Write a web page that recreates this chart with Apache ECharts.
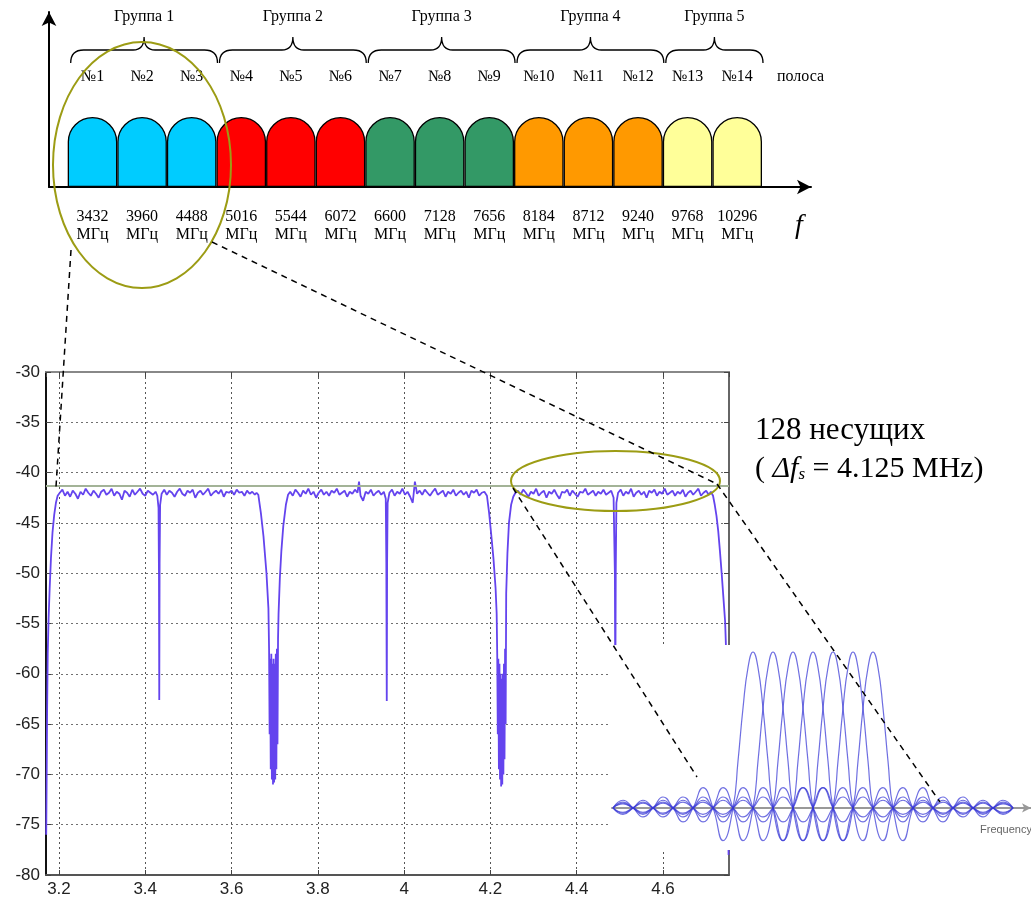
<!DOCTYPE html>
<html><head><meta charset="utf-8">
<script src="https://cdn.jsdelivr.net/npm/echarts@6/dist/echarts.min.js"></script>
<style>html,body{margin:0;padding:0;background:#fff}#c{width:1031px;height:898px}</style>
</head><body><div id="c"></div>
<script>
// ---------- top band plan ----------
const bandNumbers = ['№1','№2','№3','№4','№5','№6','№7','№8','№9','№10','№11','№12','№13','№14'];
const bandFreqs = [3432,3960,4488,5016,5544,6072,6600,7128,7656,8184,8712,9240,9768,10296];
const bandGroup = [1,1,1,2,2,2,3,3,3,4,4,4,5,5];
const bandLevel = [1,1,1,1,1,1,1,1,1,1,1,1,1,1];
const groupNames = ['Группа 1','Группа 2','Группа 3','Группа 4','Группа 5'];
const groupStart = [0,3,6,9,12];
const groupEnd = [2,5,8,11,13];

// ---------- spectrum (GHz, dB) ----------
const specLeftEdge = [[3.1705,-76.0],[3.1715,-70.5],[3.1725,-64.0],[3.1740,-58.0],[3.1760,-54.5],[3.1785,-51.5],[3.1815,-48.5],[3.1850,-46.0],[3.1890,-44.2],[3.1930,-43.0],[3.1970,-42.3]];
const specBand1 = [[3.202,-42.0],[3.208,-41.7],[3.214,-42.3],[3.220,-41.9],[3.226,-42.4],[3.232,-41.8],[3.238,-42.1],[3.244,-42.6],[3.250,-41.9],[3.256,-42.2],[3.262,-41.6],[3.268,-42.0],[3.274,-42.3],[3.280,-41.8],[3.286,-42.1],[3.292,-42.5],[3.298,-41.9],[3.304,-41.7],[3.310,-42.2],[3.316,-42.0],[3.322,-41.6],[3.328,-42.3],[3.334,-41.9],[3.340,-42.1],[3.346,-42.7],[3.352,-41.8],[3.358,-42.0],[3.364,-42.4],[3.370,-41.7],[3.376,-42.2],[3.382,-41.9],[3.388,-41.6],[3.394,-42.1],[3.400,-42.3],[3.406,-41.8],[3.412,-42.0],[3.418,-42.2],[3.424,-41.9],[3.428,-42.3],
  [3.4308,-43.5],[3.4318,-50.0],[3.4325,-62.6],[3.4333,-49.0],[3.4345,-43.2],
  [3.438,-42.1],[3.444,-41.7],[3.450,-42.2],[3.456,-41.8],[3.462,-42.0],[3.468,-42.4],[3.474,-41.9],[3.480,-41.6],[3.486,-42.1],[3.492,-42.3],[3.498,-41.8],[3.504,-42.0],[3.510,-41.7],[3.516,-42.5],[3.522,-42.0],[3.528,-41.8],[3.534,-42.2],[3.540,-41.9],[3.546,-41.6],[3.552,-42.3],[3.558,-42.0],[3.564,-41.8],[3.570,-42.1],[3.576,-41.7],[3.582,-42.4],[3.588,-41.9],[3.594,-42.0],[3.600,-41.8],[3.606,-42.2],[3.612,-41.7],[3.618,-42.0],[3.624,-41.9],[3.630,-42.3],[3.636,-41.8],[3.642,-42.1],[3.648,-41.9],[3.654,-42.2],[3.658,-42.0]];
const specGap1 = [[3.662,-42.2],[3.668,-44.0],[3.674,-46.3],[3.681,-50.0],[3.6855,-53.5],[3.6870,-57.5],[3.6883,-66.0],[3.6896,-58.5],[3.6909,-69.5],[3.6922,-58.0],[3.6935,-70.5],[3.6948,-59.0],[3.6961,-71.0],[3.6974,-58.5],[3.6987,-70.8],[3.7000,-59.0],[3.7013,-70.5],[3.7026,-58.0],[3.7039,-69.5],[3.7052,-57.5],[3.7065,-67.0],[3.7078,-56.5],[3.7090,-54.0],[3.7120,-50.5],[3.7155,-47.8],[3.7200,-45.3],[3.7260,-43.2],[3.7310,-42.2]];
const specBand2 = [[3.736,-41.9],[3.742,-42.3],[3.748,-41.7],[3.754,-42.0],[3.760,-42.4],[3.766,-41.8],[3.772,-42.1],[3.778,-41.6],[3.784,-42.2],[3.790,-41.9],[3.796,-42.5],[3.802,-42.0],[3.808,-41.7],[3.814,-42.2],[3.820,-41.9],[3.826,-42.3],[3.832,-41.8],[3.838,-42.0],[3.844,-41.6],[3.850,-42.2],[3.856,-42.0],[3.862,-41.8],[3.868,-42.4],[3.874,-41.9],[3.880,-42.1],[3.886,-41.7],[3.892,-42.0],[3.8955,-40.9],[3.899,-42.3],[3.905,-42.8],[3.911,-41.9],[3.917,-42.1],[3.923,-41.7],[3.929,-42.3],[3.935,-42.0],[3.941,-41.8],[3.947,-42.2],[3.953,-41.9],[3.9575,-42.6],
  [3.9588,-49.0],[3.9598,-62.7],[3.9606,-49.0],[3.9618,-43.0],
  [3.966,-42.0],[3.972,-41.7],[3.978,-42.3],[3.984,-41.9],[3.990,-42.1],[3.996,-41.6],[4.002,-42.2],[4.008,-41.9],[4.014,-42.4],[4.020,-43.0],[4.025,-40.9],[4.030,-42.1],[4.036,-41.8],[4.042,-42.2],[4.048,-41.7],[4.054,-42.0],[4.060,-42.3],[4.066,-41.9],[4.072,-41.6],[4.078,-42.2],[4.084,-42.0],[4.090,-41.8],[4.096,-42.4],[4.102,-41.9],[4.108,-42.1],[4.114,-41.7],[4.120,-42.3],[4.126,-42.0],[4.132,-41.8],[4.138,-42.2],[4.144,-41.9],[4.150,-42.5],[4.156,-41.8],[4.162,-42.0],[4.168,-41.7],[4.174,-42.3],[4.180,-42.0],[4.186,-41.9]];
const specGap2 = [[4.192,-42.3],[4.197,-44.0],[4.202,-46.2],[4.207,-48.5],[4.212,-51.5],[4.2145,-54.0],[4.2158,-58.0],[4.2171,-66.0],[4.2184,-58.5],[4.2197,-69.5],[4.2210,-59.0],[4.2223,-70.5],[4.2236,-60.0],[4.2249,-71.2],[4.2262,-60.5],[4.2275,-71.0],[4.2288,-60.0],[4.2301,-70.0],[4.2314,-59.0],[4.2327,-68.5],[4.2340,-57.5],[4.2353,-65.0],[4.2366,-52.0],[4.2395,-48.0],[4.2430,-45.0],[4.2480,-43.2],[4.2530,-42.4],[4.2580,-42.0]];
const specBand3 = [[4.264,-41.8],[4.270,-42.2],[4.276,-41.7],[4.282,-42.0],[4.288,-42.4],[4.294,-41.9],[4.300,-42.1],[4.306,-41.6],[4.312,-42.3],[4.318,-42.0],[4.324,-41.8],[4.330,-42.5],[4.336,-41.9],[4.342,-42.1],[4.348,-41.7],[4.354,-42.2],[4.360,-42.6],[4.366,-41.9],[4.372,-42.0],[4.378,-41.7],[4.384,-42.3],[4.390,-41.8],[4.396,-42.1],[4.402,-42.4],[4.408,-41.9],[4.414,-42.0],[4.420,-41.6],[4.426,-42.2],[4.432,-42.0],[4.438,-41.8],[4.444,-42.3],[4.450,-41.9],[4.456,-42.1],[4.462,-41.7],[4.468,-42.2],[4.474,-42.0],[4.480,-41.8],[4.4855,-42.5],
  [4.4885,-50.0],[4.4895,-62.5],[4.4905,-50.0],[4.4920,-43.0],
  [4.496,-42.0],[4.502,-41.7],[4.508,-42.3],[4.514,-41.9],[4.520,-42.1],[4.526,-41.6],[4.532,-42.4],[4.538,-42.0],[4.544,-41.8],[4.550,-42.2],[4.556,-41.9],[4.562,-42.5],[4.568,-41.8],[4.574,-42.0],[4.580,-41.7],[4.586,-42.3],[4.592,-41.9],[4.598,-42.1],[4.604,-41.6],[4.610,-42.2],[4.616,-42.0],[4.622,-41.8],[4.628,-42.3],[4.634,-41.9],[4.640,-42.1],[4.646,-41.7],[4.652,-42.4],[4.658,-42.0],[4.664,-41.8],[4.670,-42.2],[4.676,-41.9],[4.682,-41.6],[4.688,-42.3],[4.694,-42.0],[4.700,-41.8],[4.706,-42.2],[4.711,-41.9]];
const specRightEdge = [[4.716,-42.3],[4.720,-43.2],[4.724,-44.3],[4.728,-45.8],[4.732,-47.8],[4.736,-50.0],[4.740,-52.4],[4.744,-54.8],[4.7465,-58.0],[4.7485,-64.0],[4.7505,-72.0],[4.7520,-78.0]];
const specReference = -41.3;

// ---------- inset: subcarrier spectra (offset in carrier spacings, relative level) ----------
const carrierCenters = [0,1,2,3,4,5,6];
const sincHalf = [[0,1],[0.25,0.9],[0.5,0.64],[0.75,0.3],[1,0],[1.5,-0.21],[2,0],[2.5,0.13],[3,0],[3.5,-0.09],[4,0],[4.5,0.07],[5,0],[5.5,-0.058],[6,0],[6.5,0.049],[7,0],[7.5,-0.042],[8,0],[8.5,0.037],[9,0],[9.5,-0.034],[10,0],[10.5,0.03],[11,0],[11.5,-0.028],[12,0],[12.5,0.025],[13,0],[13.5,-0.024],[14,0]];
const insetRange = [-7, 13];

const groupColors = ['#00ccff','#ff0000','#339966','#ff9900','#ffff99'];
const serif = '"Liberation Serif", "Times New Roman", serif';
const sans = '"Liberation Sans", Arial, sans-serif';

const spectrum = [].concat(specLeftEdge, specBand1, specGap1, specBand2, specGap2, specBand3, specRightEdge);
const sincFull = sincHalf.slice(1).map(p => [-p[0], p[1]]).reverse().concat(sincHalf);

const insetSeries = carrierCenters.map(c => ({
  type: 'line', xAxisIndex: 5, yAxisIndex: 4, z: 20, smooth: 0.5, showSymbol: false, silent: true,
  lineStyle: { color: '#3838d6', width: 1.2, opacity: 0.72 },
  data: sincFull.map(p => [c + p[0], p[1]]).filter(p => p[0] >= insetRange[0] && p[0] <= insetRange[1])
}));

const chart = echarts.init(document.getElementById('c'), null, { renderer: 'canvas' });
const option = {
  animation: false,
  backgroundColor: '#fff',
  grid: [
    { left: 67.7, top: 117, width: 694.3, height: 70 },          // bands
    { left: 49, top: 12, width: 762, height: 175 },              // arrows
    { left: 46, top: 372, width: 683, height: 505 },             // spectrum
    { left: 612, top: 645, width: 419, height: 205 }             // inset
  ],
  xAxis: [
    { gridIndex: 0, type: 'category', data: bandFreqs, position: 'bottom',
      axisLine: { show: false }, axisTick: { show: false },
      axisLabel: { interval: 0, margin: 21, formatter: v => v + '\nМГц', fontFamily: serif, fontSize: 16, lineHeight: 18, color: '#000' } },
    { gridIndex: 0, type: 'category', data: bandNumbers, position: 'top',
      axisLine: { show: false }, axisTick: { show: false },
      axisLabel: { interval: 0, margin: 32, fontFamily: serif, fontSize: 16, color: '#000' } },
    { gridIndex: 1, type: 'value', min: 0, max: 1,
      axisLine: { show: true, onZero: false, symbol: ['none', 'arrow'], symbolSize: [11, 14], lineStyle: { color: '#000', width: 2 } },
      axisTick: { show: false }, axisLabel: { show: false }, splitLine: { show: false } },
    { gridIndex: 2, type: 'value', min: 3.17, max: 4.753, splitNumber: 8, position: 'bottom',
      axisLine: { show: true, onZero: false, lineStyle: { color: '#555', width: 2 } },
      axisTick: { show: true, inside: true, length: 5, lineStyle: { color: '#444' } },
      axisLabel: { showMinLabel: false, showMaxLabel: false, margin: 6, fontFamily: sans, fontSize: 17, color: '#222' },
      splitLine: { show: true, lineStyle: { color: '#555', type: [2, 3], width: 1 } } },
    { gridIndex: 2, type: 'value', min: 3.17, max: 4.753, splitNumber: 8, position: 'top',
      axisLine: { show: true, onZero: false, lineStyle: { color: '#888', width: 2 } },
      axisTick: { show: true, inside: true, length: 5, lineStyle: { color: '#444' } },
      axisLabel: { show: false }, splitLine: { show: false } },
    { gridIndex: 3, type: 'value', min: -7.05, max: 13.9, z: 15,
      axisLine: { show: true, onZero: true, symbol: ['none', 'arrow'], symbolSize: [7, 9], lineStyle: { color: '#999', width: 2 } },
      axisTick: { show: false }, axisLabel: { show: false }, splitLine: { show: false } }
  ],
  yAxis: [
    { gridIndex: 0, type: 'value', min: 0, max: 1, show: false },
    { gridIndex: 1, type: 'value', min: 0, max: 1,
      axisLine: { show: true, onZero: false, symbol: ['none', 'arrow'], symbolSize: [11, 14], lineStyle: { color: '#000', width: 2 } },
      axisTick: { show: false }, axisLabel: { show: false }, splitLine: { show: false } },
    { gridIndex: 2, type: 'value', min: -80, max: -30, interval: 5, position: 'left',
      axisLine: { show: true, onZero: false, lineStyle: { color: '#111', width: 2 } },
      axisTick: { show: true, inside: true, length: 5, lineStyle: { color: '#444' } },
      axisLabel: { margin: 6, fontFamily: sans, fontSize: 17, color: '#222' },
      splitLine: { show: true, lineStyle: { color: '#707070', type: [2, 3], width: 1 } } },
    { gridIndex: 2, type: 'value', min: -80, max: -30, interval: 5, position: 'right',
      axisLine: { show: true, onZero: false, lineStyle: { color: '#666', width: 2 } },
      axisTick: { show: true, inside: true, length: 5, lineStyle: { color: '#444' } },
      axisLabel: { show: false }, splitLine: { show: false } },
    { gridIndex: 3, type: 'value', min: -0.27, max: 1.045, show: false }
  ],
  series: [
    { type: 'bar', xAxisIndex: 0, yAxisIndex: 0, barCategoryGap: '0%', silent: true,
      data: bandLevel.map((v, i) => ({ value: v, itemStyle: { color: groupColors[bandGroup[i] - 1] } })),
      itemStyle: { borderColor: '#000', borderWidth: 1.3, borderRadius: [25, 25, 0, 0] } },
    { type: 'custom', xAxisIndex: 0, yAxisIndex: 0, silent: true,
      data: groupStart.map((s, i) => [s, groupEnd[i], 1]),
      encode: { x: [0, 1], y: 2 },
      renderItem: function (params, api) {
        const s = api.value(0), e = api.value(1);
        const w = api.size([1, 0])[0];
        const p0 = api.coord([s, 1]), p1 = api.coord([e, 1]);
        const L = p0[0] - w / 2 + 3, R = p1[0] + w / 2 + 1, M = (L + R) / 2, top = p0[1];
        const yE = top - 54, yM = top - 67, yT = top - 80;
        const d = 'M' + L + ',' + yE + ' Q' + L + ',' + yM + ' ' + (L + 13) + ',' + yM +
          ' L' + (M - 11) + ',' + yM + ' Q' + M + ',' + yM + ' ' + M + ',' + yT +
          ' Q' + M + ',' + yM + ' ' + (M + 11) + ',' + yM + ' L' + (R - 13) + ',' + yM +
          ' Q' + R + ',' + yM + ' ' + R + ',' + yE;
        return { type: 'group', children: [
          { type: 'path', shape: { pathData: d }, style: { fill: 'none', stroke: '#000', lineWidth: 1.3 } },
          { type: 'text', x: M, y: top - 100, style: { text: groupNames[params.dataIndex], fontFamily: serif, fontSize: 16, fill: '#000', align: 'center', verticalAlign: 'middle' } }
        ] };
      } },
    { type: 'line', xAxisIndex: 3, yAxisIndex: 2, showSymbol: false, silent: true, sampling: 'none',
      lineStyle: { color: '#6444ee', width: 1.8 },
      data: spectrum,
      markLine: { silent: true, symbol: ['none', 'none'], label: { show: false },
        lineStyle: { color: '#a3b397', width: 2, type: 'solid' },
        data: [{ yAxis: specReference }] } }
  ].concat(insetSeries),
  graphic: [
    { type: 'rect', z: 10, shape: { x: 608, y: 645, width: 423, height: 205 }, style: { fill: '#ffffff' } },
    { type: 'text', z: 16, x: 980, y: 830, style: { text: 'Frequency', fontFamily: sans, fontSize: 11, fill: '#666', verticalAlign: 'middle' } },
    { type: 'text', z: 50, x: 777, y: 77, style: { text: 'полоса', fontFamily: serif, fontSize: 16, fill: '#000', verticalAlign: 'middle' } },
    { type: 'text', z: 50, x: 799, y: 226, style: { text: 'f', fontFamily: serif, fontStyle: 'italic', fontSize: 28, fill: '#000', align: 'center', verticalAlign: 'middle' } },
    { type: 'text', z: 50, x: 755, y: 431, style: { text: '128 несущих', fontFamily: serif, fontSize: 31, fill: '#000', verticalAlign: 'middle' } },
    { type: 'text', z: 50, x: 755, y: 469, style: { text: '{a|( }{b|Δf}{c|s}{a| = 4.125 MHz)}', fill: '#000', verticalAlign: 'middle',
        rich: { a: { fontFamily: serif, fontSize: 30, fill: '#000' }, b: { fontFamily: serif, fontStyle: 'italic', fontSize: 30, fill: '#000' }, c: { fontFamily: serif, fontStyle: 'italic', fontSize: 17, fill: '#000', padding: [12, 0, 0, 0] } } } },
    { type: 'ellipse', z: 50, shape: { cx: 142, cy: 165, rx: 89, ry: 123 }, style: { fill: 'none', stroke: '#9c9c14', lineWidth: 2 } },
    { type: 'ellipse', z: 50, shape: { cx: 615.5, cy: 481, rx: 104.5, ry: 30 }, style: { fill: 'none', stroke: '#9c9c14', lineWidth: 2 } },
    { type: 'line', z: 60, shape: { x1: 71, y1: 250, x2: 56, y2: 487 }, style: { stroke: '#000', lineWidth: 1.5, lineDash: [6, 5] } },
    { type: 'line', z: 60, shape: { x1: 212, y1: 242, x2: 717, y2: 484 }, style: { stroke: '#000', lineWidth: 1.5, lineDash: [6, 5] } },
    { type: 'line', z: 60, shape: { x1: 513, y1: 488, x2: 697, y2: 777 }, style: { stroke: '#000', lineWidth: 1.5, lineDash: [6, 5] } },
    { type: 'line', z: 60, shape: { x1: 717, y1: 484, x2: 940, y2: 802 }, style: { stroke: '#000', lineWidth: 1.5, lineDash: [6, 5] } }
  ]
};
chart.setOption(option);
</script>
</body></html>
